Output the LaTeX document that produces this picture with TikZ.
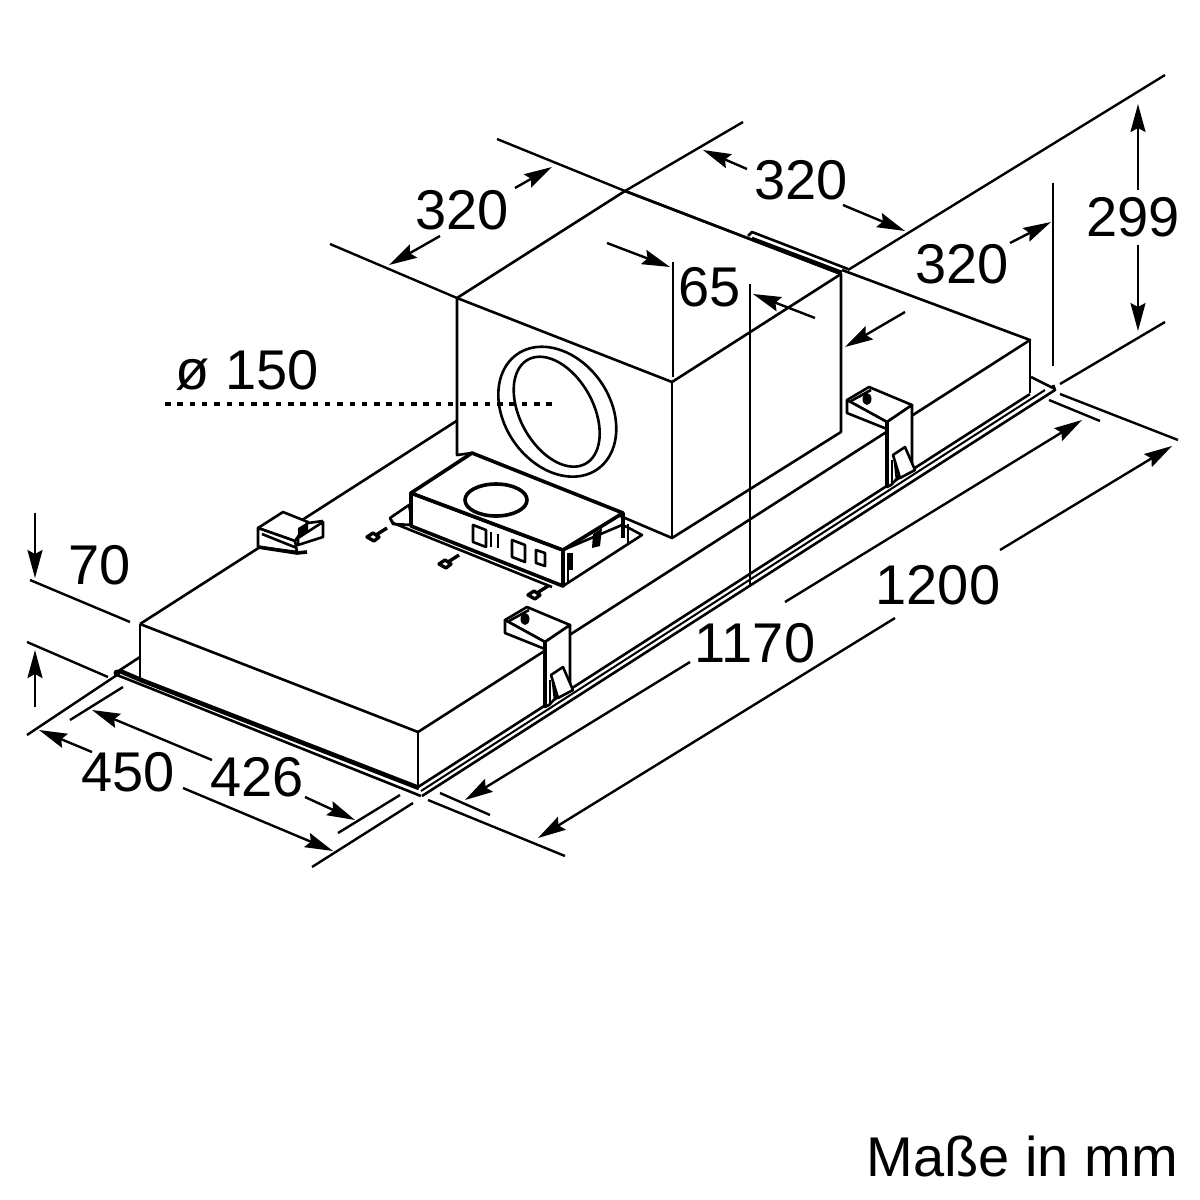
\documentclass[tikz,border=0pt]{standalone}
\usepackage{fontspec}
\setmainfont{Liberation Sans}
\usetikzlibrary{arrows.meta}
\tikzset{
  ln/.style={line width=2.6pt,black,line join=round},
  thk/.style={line width=3.6pt,black,line join=round},
  thin2/.style={line width=2pt,black},
  ext/.style={line width=2.4pt,black},
  dimarrow/.style={line width=2.4pt,black,-{Stealth[length=28pt,width=15pt,inset=4pt]}},
  lab/.style={font=\fontsize{56}{60}\selectfont,inner sep=0pt,text=black},
  bracket/.pic={
    \draw[ln,fill=white] (0,0)--(22,-13)--(65,5)--(40,22)--cycle;
    \draw[ln,fill=white] (0,0)--(0,13)--(40,29)--(40,22)--cycle;
    \draw[ln] (4,1)--(24,-10);
    \fill (20,-1) ellipse (4.5 and 6);
    \draw[ln,fill=white] (40,22)--(65,5)--(65,63)--(44,85)--(40,87)--cycle;
    \draw[thk] (40,22)--(40,87);
    \draw[ln] (45,60)--(45,85);
    \draw[ln,fill=white] (46,55)--(58,47)--(68,70)--(53,78)--cycle;
    \draw[ln] (48,62)--(50,80);
  },
  screw/.pic={
    \draw[line width=3.4pt,fill=white,line join=round] (-9,0)--(-3,-4)--(3,0)--(-2,4)--cycle;
    \draw[line width=3.4pt] (0,-2)--(11,-9);
  }
}
\begin{document}
\begin{tikzpicture}[x=1pt,y=-1pt]
\useasboundingbox (0,0) rectangle (1200,1200);
\fill[white] (0,0) rectangle (1200,1200);

% flange
\draw[ln] (117,672)--(140,657);
\draw[ln] (1031,377)--(1053,388);
\draw[ln] (117,675)--(421,796);
\draw[line width=4.6pt] (120,671)--(141,680)--(419,788);
\fill (117,673) circle (3.5);
\draw[ln] (418,787)--(1030,394);
\draw[thin2] (421,791)--(1045,390);
\draw[ln] (422,796)--(1055,390);
\draw[line width=3pt] (1053,385)--(1055,391);

% main casing
\draw[ln] (140,624)--(140,678);
\draw[ln] (418,732)--(418,786);
\draw[ln] (1030,340)--(1030,393);
\draw[ln] (140,624)--(418,732)--(1030,340)--(842,270);
\draw[ln] (140,624)--(458,420);

% rail at the back of the fan box
\draw[ln] (748,236)--(752,232)--(848,269);
\draw[ln] (752,238)--(842,272);

% brackets
\path (505,620) pic {bracket};
\path (847,400) pic {bracket};

% small rear bracket
\draw[ln,fill=white] (258,528)--(283,512)--(308,522)--(295,541)--cycle;
\draw[ln,fill=white] (258,528)--(258,547)--(297,552)--(295,541)--cycle;
\draw[ln] (262,534)--(297,548);
\draw[thk] (258,547)--(297,553)--(307,552);
\draw[ln,fill=white] (298,538)--(323,522)--(323,537)--(298,545)--cycle;
\fill (298,528)--(308,522)--(308,532)--(298,539)--cycle;
\draw[ln] (308,523)--(323,521);

% fan box
\draw[ln,fill=white] (457,298)--(457,455)--(472,453)--(672,538)--(841,432)--(841,274)--(625,191)--cycle;
\draw[ln] (457,298)--(672,382)--(841,274);
\draw[ln] (672,382)--(672,538);
\draw[ln] (625,191)--(841,274);

% control box
\draw[ln,fill=white] (563,586)--(642,535)--(627,527)--(622,525)--(563,550)--cycle;
\draw[ln,fill=white] (390,518)--(409,505)--(413,525)--(393,524)--cycle;
\draw[ln] (390,518)--(393,523)--(552,587);
\draw[thk,fill=white] (411,493)--(411,526)--(563,586)--(563,550)--cycle;
\draw[thk,fill=white] (411,493)--(472,453)--(623,513)--(563,550)--cycle;
\draw[ln] (568,553)--(568,583);
\draw[thk] (571,553)--(571,570);
\draw[thk] (623,513)--(623,538);
\draw[ln] (628,524)--(628,543);
\draw[thk] (563,550)--(563,586);
\fill (593,534)--(602,528)--(600,546)--(592,548)--cycle;
\draw[thk] (496,500) ellipse (31 and 16);
\draw[ln,fill=white] (473,525)--(486,530)--(486,547)--(473,542)--cycle;
\draw[ln] (491,532)--(491,547);
\draw[ln] (498,534)--(498,548);
\draw[ln,fill=white] (512,540)--(525,545)--(525,562)--(512,557)--cycle;
\draw[ln,fill=white] (536,550)--(545,553)--(545,566)--(536,563)--cycle;
\path (376,537) pic {screw};
\path (448,564) pic {screw};
\path (537,595) pic {screw};

% duct ring
\draw[line width=2.6pt] plot[domain=0:360,samples=90,smooth] ({557.3+59*cos(\x)},{411.7+17*cos(\x)+62.7*sin(\x)});
\draw[line width=2.6pt] plot[domain=0:360,samples=90,smooth] ({556.7+43*cos(\x)},{411.7+21.7*cos(\x)+50.5*sin(\x)});
\draw[line width=4.6pt,dash pattern=on 5.5pt off 6.8pt] (165,404)--(555,404);

% labels
\node[lab] (t320a) at (462,210) {320};
\node[lab] (t320b) at (801,180) {320};
\node[lab] (t320c) at (962,264) {320};
\node[lab] (t299) at (1133,217) {299};
\node[lab] (t65) at (710,287) {65};
\node[lab] (t150) at (247,370) {ø 150};
\node[lab] (t70) at (100,565) {70};
\node[lab] (t450) at (128,772) {450};
\node[lab] (t426) at (257,777) {426};
\node[lab] (t1170) at (755,643) {1170};
\node[lab] (t1200) at (938,585) {1200};
\node[lab,anchor=base east] (tmm) at (1178,1176) {Maße in mm};

% 320 left
\draw[ext] (330,244)--(457,298);
\draw[ext] (625,191)--(743,122);
\draw[dimarrow] (440,236)--(389,265);
\draw[dimarrow] (515,188)--(552,167);
% 320 top
\draw[ext] (497,139)--(625,191);
\draw[ext] (848,270)--(1165,75);
\draw[dimarrow] (747,169)--(703,150);
\draw[dimarrow] (843,205)--(905,231);
% 320 right
\draw[ext] (1053,183)--(1053,366);
\draw[dimarrow] (1010,243)--(1051,222);
\draw[dimarrow] (905,312)--(845,347);
% 299
\draw[ext] (1060,384)--(1165,322);
\draw[dimarrow] (1138,190)--(1138,104);
\draw[dimarrow] (1138,245)--(1138,331);
% 65
\draw[ext] (673,262)--(673,377);
\draw[ext] (750,284)--(750,585);
\draw[dimarrow] (607,243)--(670,267);
\draw[dimarrow] (815,318)--(753,294);
% 70
\draw[ext] (30,580)--(130,622);
\draw[ext] (27,642)--(108,677);
\draw[dimarrow] (35,513)--(35,578);
\draw[dimarrow] (35,707)--(35,650);
% 450
\draw[ext] (27,735)--(117,675);
\draw[ext] (312,867)--(413,803);
\draw[dimarrow] (92,752)--(39,730);
\draw[dimarrow] (183,788)--(333,851);
% 426
\draw[ext] (70,720)--(123,687);
\draw[ext] (338,833)--(400,795);
\draw[dimarrow] (212,760)--(92,710);
\draw[dimarrow] (305,797)--(355,820);
% 1170
\draw[ext] (440,793)--(490,815);
\draw[ext] (1049,400)--(1100,421);
\draw[dimarrow] (785,602)--(1082,420);
\draw[dimarrow] (690,662)--(465,800);
% 1200
\draw[ext] (428,800)--(565,856);
\draw[ext] (1060,394)--(1178,440);
\draw[dimarrow] (1000,550)--(1172,446);
\draw[dimarrow] (895,618)--(538,838);
\end{tikzpicture}
\end{document}
